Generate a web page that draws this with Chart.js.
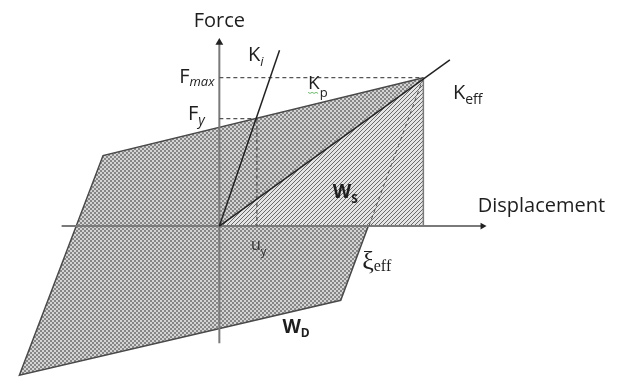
<!DOCTYPE html>
<html>
<head>
    <title>Hysteresis loop - effective stiffness</title>
    <script src="https://cdn.jsdelivr.net/npm/chart.js"></script>
    <style>body { margin: 0; background: #fff; }</style>
</head>
<body>
    <canvas id="loop-chart" width="627" height="382"></canvas>

    <script>
        // bilinear loop corners (displacement, force), closed back to the peak
        const loopX = [10, -5.7, -9.8, 5.95, 10];
        const loopY = [10, 4.75, -10.05, -5.0, 10];
        // stored strain energy triangle W_S
        const triX = [0, 10, 10, 0];
        const triY = [0, 10, 0, 0];
        // yield and peak values
        const uy = 1.84, Fy = 7.24;
        const umax = 10, Fmax = 10;
        // stiffness lines end points
        const kiEnd = [2.95, 11.84];
        const keffEnd = [11.3, 11.2];
        const unloadZero = 7.33;   // unloading branch crosses zero force here
        // axis extents
        const axisX = [-7.73, 12.9];
        const axisY = [-7.9, 12.37];

        const sans = '"Open Sans"';
        const labels = [
            { text: 'Force', x: 0, y: 13.42, align: 'center', font: '20px ' + sans },
            { text: 'Displacement', x: 12.66, y: 0.92, font: '20px ' + sans },
            { text: 'F', sub: 'max', x: -0.24, y: 9.67, align: 'right', font: '20px ' + sans, subFont: 'italic 13px ' + sans, drop: 3 },
            { text: 'F', sub: 'y', x: -0.72, y: 7.17, align: 'right', font: '20px ' + sans, subFont: 'italic 14px ' + sans, drop: 5 },
            { text: 'K', sub: 'i', x: 1.40, y: 11.12, font: '20px ' + sans, subFont: 'italic 13px ' + sans, drop: 5 },
            { text: 'K', sub: 'p', x: 4.35, y: 9.21, font: '19px ' + sans, subFont: '13px ' + sans, drop: 8, squiggle: true },
            { text: 'K', sub: 'eff', x: 11.45, y: 8.55, font: '20px ' + sans, subFont: '14px ' + sans, drop: 5 },
            { text: 'W', sub: 'S', x: 5.56, y: 1.91, font: 'bold 19px ' + sans, subFont: 'bold 12px ' + sans, drop: 5 },
            { text: 'u', sub: 'y', x: 1.55, y: -1.58, font: '16px ' + sans, subFont: '11px ' + sans, drop: 5, color: '#333' },
            { text: '\u03BE', sub: 'eff', x: 7.0, y: -2.9, font: '26px "Liberation Serif"', subFont: '16px "Liberation Serif"', drop: 2 },
            { text: 'W', sub: 'D', x: 3.09, y: -7.17, font: 'bold 19px ' + sans, subFont: 'bold 12px ' + sans, drop: 4 }
        ];

        const pts = (xs, ys) => xs.map((v, i) => ({ x: v, y: ys[i] }));

        // fine checker fill for the dissipated energy loop
        function checker() {
            const c = document.createElement('canvas');
            c.width = 4; c.height = 4;
            const g = c.getContext('2d');
            g.fillStyle = '#868686';
            g.fillRect(0, 0, 4, 4);
            g.fillStyle = '#d4d4d4';
            g.fillRect(0, 0, 2, 2);
            g.fillRect(2, 2, 2, 2);
            return g.createPattern(c, 'repeat');
        }

        // diagonal hatch for the stored energy triangle
        function hatch() {
            const c = document.createElement('canvas');
            c.width = 4; c.height = 4;
            const g = c.getContext('2d');
            g.fillStyle = '#e4e4e4';
            g.fillRect(0, 0, 4, 4);
            g.fillStyle = '#6a6a6a';
            for (let i = 0; i < 4; i++) g.fillRect(i, 3 - i, 1, 1);
            return g.createPattern(c, 'repeat');
        }

        const line = (data, color, width, extra) => Object.assign({
            data: data, showLine: true, borderColor: color, borderWidth: width,
            pointRadius: 0, fill: false, order: 1
        }, extra || {});

        const labelPlugin = {
            id: 'labels',
            afterDatasetsDraw(chart) {
                const { ctx, scales: { x, y } } = chart;
                ctx.save();
                ctx.textBaseline = 'alphabetic';
                ctx.textAlign = 'left';
                labels.forEach(l => {
                    let px = x.getPixelForValue(l.x);
                    const py = y.getPixelForValue(l.y);
                    ctx.font = l.font;
                    const w1 = ctx.measureText(l.text).width;
                    let w2 = 0;
                    if (l.sub) { ctx.font = l.subFont; w2 = ctx.measureText(l.sub).width; }
                    if (l.align === 'right') px -= w1 + w2;
                    if (l.align === 'center') px -= (w1 + w2) / 2;
                    ctx.fillStyle = l.color || '#1e1e1e';
                    ctx.font = l.font;
                    ctx.fillText(l.text, px, py);
                    if (l.sub) {
                        ctx.font = l.subFont;
                        ctx.fillText(l.sub, px + w1, py + l.drop);
                    }
                    if (l.squiggle) {
                        ctx.strokeStyle = '#6cb86c';
                        ctx.lineWidth = 1;
                        ctx.beginPath();
                        for (let i = 0; i <= w1; i += 2) ctx.lineTo(px + i, py + 3 + (i % 4 ? 1 : 0));
                        ctx.stroke();
                    }
                });
                ctx.restore();
            }
        };

        const ctx = document.getElementById('loop-chart').getContext('2d');
        new Chart(ctx, {
            type: 'scatter',
            data: {
                datasets: [
                    line(pts(loopX, loopY), '#4a4a4a', 1.5, { fill: 'shape', backgroundColor: checker(), order: 10 }),
                    line(pts(triX, triY), 'rgba(0,0,0,0)', 0, { fill: 'shape', backgroundColor: hatch(), order: 9 }),
                    line(pts([umax, umax], [0, Fmax]), '#7a7a7a', 1.5),
                    line(pts([unloadZero, umax], [0, Fmax]), '#555', 1, { borderDash: [4, 3] }),
                    line(pts([0, umax], [Fmax, Fmax]), '#555', 1.3, { borderDash: [4, 3] }),
                    line(pts([0, uy], [Fy, Fy]), '#555', 1.3, { borderDash: [4, 3] }),
                    line(pts([uy, uy], [Fy, 0]), '#555', 1.3, { borderDash: [4, 3] }),
                    line(pts(axisX, [0, 0]), '#7a7a7a', 2, {
                        pointRadius: [0, 4], pointStyle: 'triangle', pointRotation: [0, 90],
                        pointBackgroundColor: '#222', pointBorderWidth: 0
                    }),
                    line(pts([0, 0], axisY), '#7a7a7a', 2, {
                        pointRadius: [0, 4.5], pointStyle: 'triangle', pointRotation: 0,
                        pointBackgroundColor: '#222', pointBorderWidth: 0
                    }),
                    line(pts([0, kiEnd[0]], [0, kiEnd[1]]), '#222', 1.5, { order: 0 }),
                    line(pts([0, keffEnd[0]], [0, keffEnd[1]]), '#222', 1.5, { order: 0 })
                ]
            },
            options: {
                responsive: false,
                animation: false,
                layout: { padding: 0 },
                plugins: {
                    legend: { display: false },
                    tooltip: { enabled: false }
                },
                scales: {
                    x: { type: 'linear', display: false, min: -10.53, max: 19.76 },
                    y: { type: 'linear', display: false, min: -10.2, max: 14.93 }
                }
            },
            plugins: [labelPlugin]
        });
    </script>
</body>
</html>
